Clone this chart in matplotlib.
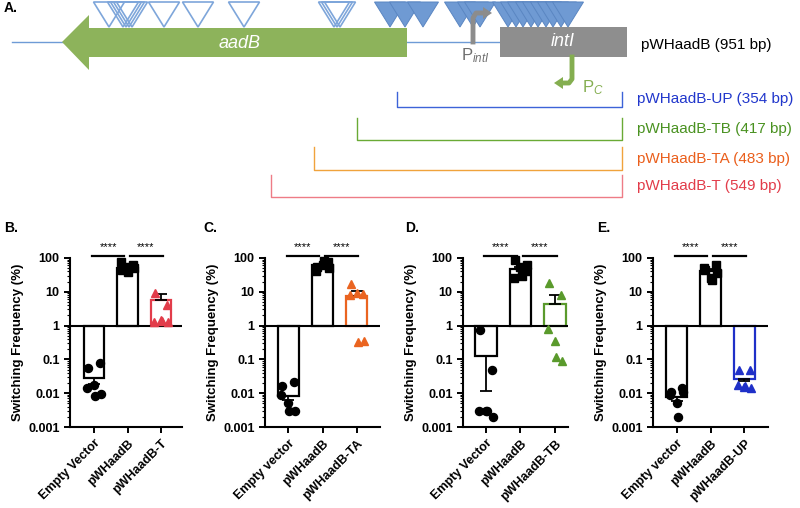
import numpy as np
import matplotlib.pyplot as plt
from matplotlib.patches import Polygon, Rectangle

plt.rcParams['font.family'] = ['Liberation Sans', 'DejaVu Sans']
plt.rcParams['mathtext.fontset'] = 'custom'
plt.rcParams['mathtext.rm'] = 'Liberation Sans'
plt.rcParams['mathtext.it'] = 'Liberation Sans:italic'

# ---------- panel A: schematic (pixel coordinates) ----------
open_sites = [109, 123, 126, 129, 132, 164, 198, 244, 334, 337, 340]
filled_sites = [390, 405, 423, 460, 473, 480, 508, 516, 523, 531, 538, 546, 553, 561, 568]
construct_labels = ['pWHaadB-UP (354 bp)', 'pWHaadB-TB (417 bp)',
                    'pWHaadB-TA (483 bp)', 'pWHaadB-T (549 bp)']
construct_start = [397, 357, 314, 271]
construct_text_colors = ['#2137CC', '#4A9221', '#EA5F1C', '#E23C4A']
construct_line_colors = ['#3D63D8', '#6AAA35', '#F0A33C', '#EE7C86']

# ---------- panels B-E: switching frequency (%) ----------
groups_B = ['Empty Vector', 'pWHaadB', 'pWHaadB-T']
ev_B = [0.057, 0.08, 0.0145, 0.017, 0.008, 0.0095]
wt_B = [45, 62, 78, 38, 55, 50]
mut_B = [9.5, 4.2, 1.3, 1.5, 1.4, 1.3]
mean_B = [0.028, 52, 5.8]
sem_B = [0.009, 7, 2.8]

groups_C = ['Empty vector', 'pWHaadB', 'pWHaadB-TA']
ev_C = [0.016, 0.022, 0.009, 0.005, 0.003, 0.003]
wt_C = [55, 75, 42, 62, 80, 50]
mut_C = [17, 8.5, 8.0, 9.5, 0.33, 0.36]
mean_C = [0.0085, 60, 7.6]
sem_C = [0.002, 7, 3.0]

groups_D = ['Empty Vector', 'pWHaadB', 'pWHaadB-TB']
ev_D = [0.75, 0.05, 0.003, 0.003, 0.003, 0.002]
wt_D = [85, 40, 25, 55, 30, 60]
mut_D = [18, 8, 0.8, 0.35, 0.12, 0.09]
mean_D = [0.125, 48, 4.5]
sem_D = [0.113, 8, 3.4]

groups_E = ['Empty vector', 'pWHaadB', 'pWHaadB-UP']
ev_E = [0.011, 0.014, 0.009, 0.005, 0.002, 0.0105]
wt_E = [45, 60, 50, 25, 22, 35]
mut_E = [0.05, 0.05, 0.017, 0.015, 0.016, 0.014]
mean_E = [0.0075, 40, 0.027]
sem_E = [0.0015, 6, 0.004]

fig = plt.figure(figsize=(8, 5.08), dpi=100)

ax0 = fig.add_axes([0, 0, 1, 1])
ax0.set_xlim(0, 800)
ax0.set_ylim(508, 0)
ax0.axis('off')

ax0.text(4, 8, 'A.', fontsize=10, fontweight='bold', va='center')

# backbone line
ax0.plot([12, 500], [42, 42], color='#6E9BD6', lw=1, zorder=1)

# insertion sites
for x in open_sites:
    ax0.add_patch(Polygon([(x - 15.5, 2), (x + 15.5, 2), (x, 27)], closed=True,
                          facecolor='none', edgecolor='#7EA6DA', lw=1.2, zorder=2))
for x in filled_sites:
    ax0.add_patch(Polygon([(x - 15.5, 2), (x + 15.5, 2), (x, 27)], closed=True,
                          facecolor='#6F9AD3', edgecolor='#5A86C2', lw=0.7, zorder=2))

# aadB arrow
ax0.add_patch(Polygon([(62, 42), (89, 15), (89, 28), (407, 28), (407, 57),
                       (89, 57), (89, 70)], closed=True, facecolor='#8DB35B',
                      edgecolor='none', zorder=3))
ax0.text(240, 43, 'aadB', color='white', fontsize=13, style='italic',
         ha='center', va='center', zorder=4)

# intI box
ax0.add_patch(Rectangle((500, 27), 127, 30, facecolor='#8E8E8E', edgecolor='none', zorder=3))
ax0.text(563, 42, 'intI', color='white', fontsize=13, style='italic',
         ha='center', va='center', zorder=4)
ax0.text(641, 45, 'pWHaadB (951 bp)', fontsize=11, va='center')

# P_intI promoter
ax0.plot([473, 473, 476, 484], [42, 18, 13, 13], color='#8C8C8C', lw=3.5,
         solid_joinstyle='round', zorder=5)
ax0.add_patch(Polygon([(483, 7), (492, 13), (483, 19)], closed=True,
                      facecolor='#8C8C8C', edgecolor='none', zorder=5))
ax0.text(461, 56, r'$\mathrm{P}_{\mathit{intI}}$', color='#6E6E6E', fontsize=12, va='center')

# P_C promoter
ax0.plot([572, 572, 569, 562], [57, 79, 83, 83], color='#84AE50', lw=3.5,
         solid_joinstyle='round', zorder=5)
ax0.add_patch(Polygon([(563, 77), (554, 83), (563, 89)], closed=True,
                      facecolor='#84AE50', edgecolor='none', zorder=5))
ax0.text(582, 88, r'$\mathrm{P}_{\mathit{C}}$', color='#84AE50', fontsize=12, va='center')

# construct brackets
bracket_tops = [92, 118, 147, 175]
bracket_bottoms = [107, 140, 170, 197]
for lab, x0, top, bot, tc, lc in zip(construct_labels, construct_start, bracket_tops,
                                      bracket_bottoms, construct_text_colors,
                                      construct_line_colors):
    ax0.plot([x0, x0, 622, 622], [top, bot, bot, top], color=lc, lw=1)
    ax0.text(637, (top + bot) / 2, lab, color=tc, fontsize=11, va='center')

# ---------- bar panels ----------
panels = [
    ('B.', 4, groups_B, [ev_B, wt_B, mut_B], mean_B, sem_B, '#E23C4A', 70, 182, (-0.72, 2.63)),
    ('C.', 203, groups_C, [ev_C, wt_C, mut_C], mean_C, sem_C, '#EA6420', 265, 380, (-0.68, 2.68)),
    ('D.', 405, groups_D, [ev_D, wt_D, mut_D], mean_D, sem_D, '#5A9A2C', 463, 568, (-0.67, 2.38)),
    ('E.', 597, groups_E, [ev_E, wt_E, mut_E], mean_E, sem_E, '#1F30C8', 653, 768, (-0.7, 2.7)),
]
jitter = [-0.17, 0.17, -0.2, 0.0, 0.03, 0.2]
markers = ['o', 's', '^']
top_px, bot_px = 258, 427

for tag, tag_x, groups, pts, means, sems, col, left, right, xl in panels:
    ax = fig.add_axes([left / 800, (508 - bot_px) / 508, (right - left) / 800,
                       (bot_px - top_px) / 508])
    ax0.text(tag_x, 228, tag, fontsize=10, fontweight='bold', va='center')
    ax.set_yscale('log')
    ax.set_ylim(0.001, 100)
    ax.set_xlim(*xl)
    xs = np.arange(len(groups))
    colors = ['black', 'black', col]
    for i in range(len(groups)):
        m = means[i]
        ax.bar(xs[i], m - 1, bottom=1, width=0.62, facecolor='white',
               edgecolor=colors[i], lw=1.6, zorder=2)
        if m < 1:
            yerr = [[sems[i]], [0]]
        else:
            yerr = [[0], [sems[i]]]
        ax.errorbar(xs[i], m, yerr=yerr, color='black', lw=1.3, capsize=4,
                    capthick=1.3, zorder=4)
        ax.plot(xs[i] + np.array(jitter[:len(pts[i])]), pts[i], markers[i],
                color=colors[i], ms=5.8 if markers[i] != '^' else 6.3,
                zorder=5, clip_on=False)
    ax.axhline(1, color='black', lw=1.5, zorder=3)
    # significance
    for a, b, sx in [(-0.05, 0.9, 0.42), (1.08, 2.05, 1.55)]:
        ax.plot([a, b], [115, 115], color='black', lw=1.6, clip_on=False)
        ax.text(sx, 150, '****', fontsize=8, ha='center', va='bottom')
    ax.set_xticks(xs)
    ax.set_xticklabels(groups, rotation=45, ha='right', rotation_mode='anchor',
                       fontsize=9, fontweight='bold')
    ax.set_yticks([0.001, 0.01, 0.1, 1, 10, 100])
    ax.set_yticklabels(['0.001', '0.01', '0.1', '1', '10', '100'],
                       fontsize=9, fontweight='bold')
    ax.tick_params(axis='both', which='major', length=4, width=1.4)
    ax.tick_params(axis='y', which='minor', length=2, width=0.8)
    ax.set_ylabel('Switching Frequency (%)', fontsize=9.5, fontweight='bold', labelpad=3)
    for s in ['top', 'right']:
        ax.spines[s].set_visible(False)
    for s in ['left', 'bottom']:
        ax.spines[s].set_linewidth(1.5)

fig.savefig('out.png', dpi=100)
